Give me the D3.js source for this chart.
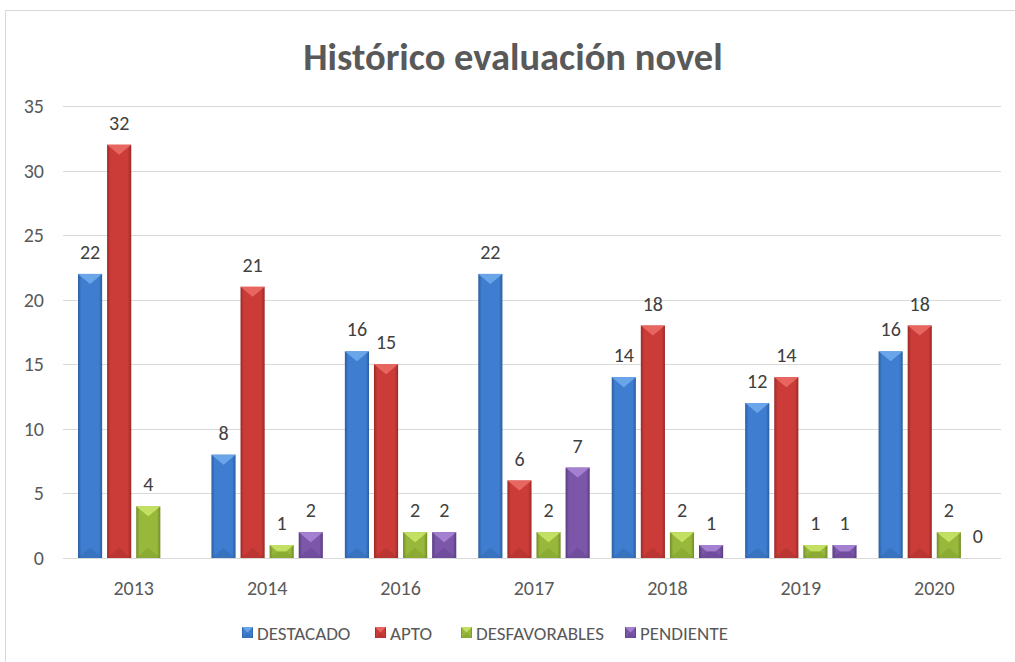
<!DOCTYPE html>
<html>
<head>
<meta charset="utf-8">
<script src="https://cdn.jsdelivr.net/npm/d3@7"></script>
<style>
  body { margin: 0; background: #fff; }
  text { font-family: Carlito, Calibri, Lato, sans-serif; fill: #595959; }
</style>
</head>
<body>
<div id="chart"></div>
<script>
// chart data
var years = ["2013", "2014", "2016", "2017", "2018", "2019", "2020"];
var series = ["DESTACADO", "APTO", "DESFAVORABLES", "PENDIENTE"];
var destacado = [22, 8, 16, 22, 14, 12, 16];
var apto = [32, 21, 15, 6, 18, 14, 18];
var desfavorables = [4, 1, 2, 2, 2, 1, 2];
var pendiente = [null, 2, 2, 7, 1, 1, 0];
var yTicks = [0, 5, 10, 15, 20, 25, 30, 35];

var values = [destacado, apto, desfavorables, pendiente];

// colours: base, light, dark
var colors = [
  { base: "#3e7dcf", light: "#6aa5ea", dark: "#2b5e9f" },
  { base: "#cb3b38", light: "#e86660", dark: "#992a27" },
  { base: "#97b83b", light: "#c3e063", dark: "#728d28" },
  { base: "#7b56a9", light: "#a481d0", dark: "#593c80" }
];

var svgWidth = 1015;
var svgHeight = 662;

var svg = d3.select("#chart")
  .append("svg")
  .attr("width", svgWidth)
  .attr("height", svgHeight);

// outer frame
svg.append("rect")
  .attr("x", 5.5)
  .attr("y", 10.5)
  .attr("width", 1030)
  .attr("height", 700)
  .attr("fill", "#fff")
  .attr("stroke", "#d9d9d9");

// gradients
var defs = svg.append("defs");
colors.forEach(function(c, i) {
  var g = defs.append("linearGradient")
    .attr("id", "grad" + i)
    .attr("x1", "0").attr("x2", "1").attr("y1", "0").attr("y2", "0");
  g.append("stop").attr("offset", "0").attr("stop-color", c.dark);
  g.append("stop").attr("offset", "0.14").attr("stop-color", c.base);
  g.append("stop").attr("offset", "0.86").attr("stop-color", c.base);
  g.append("stop").attr("offset", "1").attr("stop-color", c.dark);
});

// title
svg.append("text")
  .attr("x", 513)
  .attr("y", 70)
  .attr("text-anchor", "middle")
  .style("font-size", "38.5px")
  .style("font-weight", "bold")
  .text("Histórico evaluación novel");

var plotLeft = 67, plotRight = 1001, plotTop = 106, plotBottom = 558;

var x0 = d3.scaleBand()
  .domain(years)
  .range([plotLeft, plotRight]);

var x1 = d3.scaleBand()
  .domain(series)
  .range([11, x0.bandwidth() - 11])
  .paddingInner(0.17);

var y = d3.scaleLinear()
  .domain([0, 35])
  .range([plotBottom, plotTop]);

// gridlines
svg.append("g")
  .selectAll("line")
  .data(yTicks)
  .enter()
  .append("line")
  .attr("x1", 63)
  .attr("x2", plotRight)
  .attr("y1", d => Math.round(y(d)) + 0.5)
  .attr("y2", d => Math.round(y(d)) + 0.5)
  .attr("stroke", "#d9d9d9")
  .attr("stroke-width", 1);

// y tick labels
svg.append("g")
  .selectAll("text")
  .data(yTicks)
  .enter()
  .append("text")
  .attr("x", 44)
  .attr("y", d => y(d) + 7)
  .attr("text-anchor", "end")
  .style("font-size", "20px")
  .text(d => d);

// x labels
var xAxis = svg.append("g")
  .attr("transform", `translate(0, ${plotBottom})`)
  .call(d3.axisBottom(x0).tickSize(0).tickPadding(0));
xAxis.select(".domain").remove();
xAxis.selectAll("text")
  .attr("y", 37)
  .attr("dy", null)
  .style("font-size", "20px")
  .style("font-family", "Carlito, Calibri, Lato, sans-serif")
  .attr("fill", "#595959");

// flatten data
var bars = [];
years.forEach(function(yr, i) {
  series.forEach(function(s, j) {
    bars.push({ year: yr, series: s, idx: j, value: values[j][i] });
  });
});

function drawBar(g, bx, by, w, h, idx) {
  var c = colors[idx];
  g.append("rect")
    .attr("x", bx).attr("y", by)
    .attr("width", w).attr("height", h)
    .attr("fill", "url(#grad" + idx + ")");
  var b = Math.min(w / 2, h / 2, 10);
  var s = Math.max(0, w / 2 - b * 1.2);
  // top bevel
  g.append("polygon")
    .attr("points", [[bx, by], [bx + w, by], [bx + w / 2 + s, by + b], [bx + w / 2 - s, by + b]].join(" "))
    .attr("fill", c.light);
  // bottom bevel
  g.append("polygon")
    .attr("points", [[bx, by + h], [bx + w, by + h], [bx + w / 2 + s, by + h - b], [bx + w / 2 - s, by + h - b]].join(" "))
    .attr("fill", c.dark)
    .attr("opacity", 0.3);
}

var barGroup = svg.append("g");
bars.filter(d => d.value !== null).forEach(function(d) {
  var bx = x0(d.year) + x1(d.series);
  var by = y(d.value);
  var h = y(0) - by;
  if (h > 0) drawBar(barGroup, bx, by, x1.bandwidth(), h, d.idx);
});

// value labels
svg.append("g")
  .selectAll("text")
  .data(bars.filter(d => d.value !== null))
  .enter()
  .append("text")
  .attr("x", d => x0(d.year) + x1(d.series) + x1.bandwidth() / 2)
  .attr("y", d => y(d.value) - 15)
  .attr("text-anchor", "middle")
  .style("font-size", "20px")
  .style("fill", "#404040")
  .text(d => d.value);

// legend
var legendX = [242, 375, 461, 625];
var legend = svg.append("g");
series.forEach(function(s, i) {
  var lg = legend.append("g");
  drawBar(lg, legendX[i], 627, 11, 11, i);
  lg.append("text")
    .attr("x", legendX[i] + 15)
    .attr("y", 640)
    .style("font-size", "19px")
    .text(s);
});
</script>
</body>
</html>
